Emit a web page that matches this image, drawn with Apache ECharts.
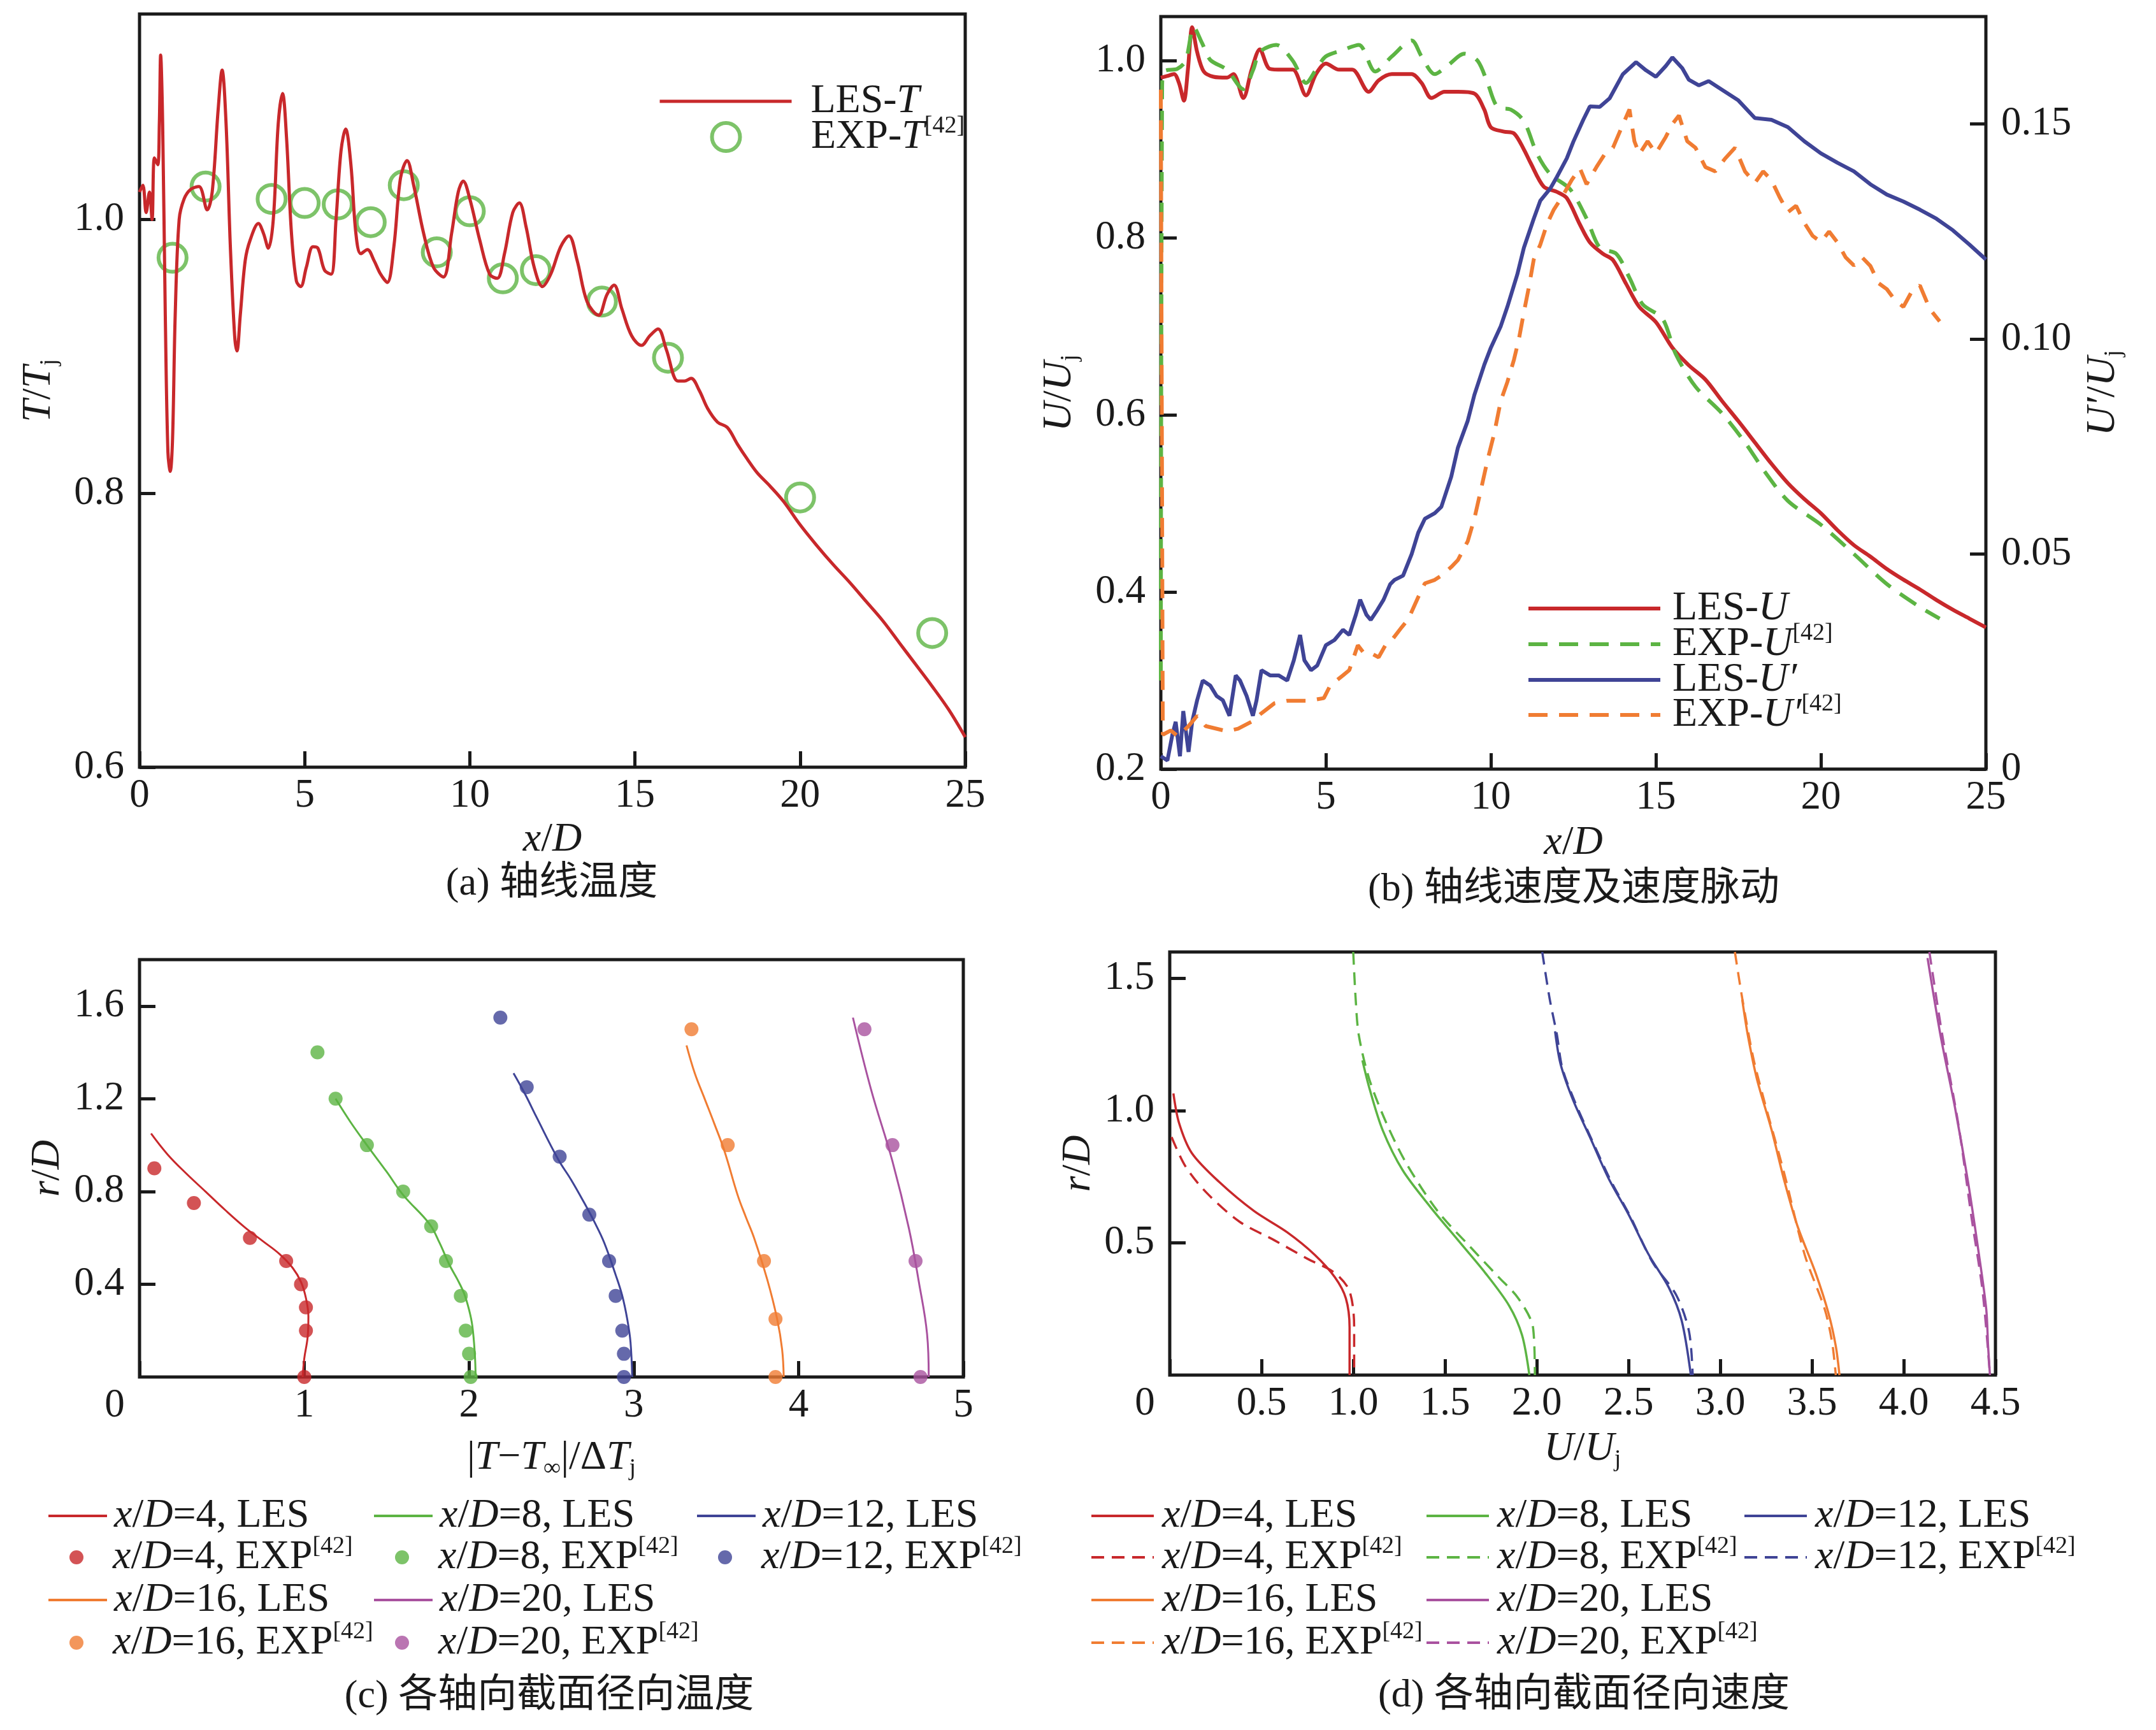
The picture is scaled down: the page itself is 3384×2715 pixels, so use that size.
<!DOCTYPE html>
<html lang="zh">
<head>
  <meta charset="UTF-8">
  <title>轴线温度与速度</title>
  <style>
    html, body { margin: 0; padding: 0; background: #fff; }
    #chart { width: 3384px; height: 2715px; }
  </style>
</head>
<body>
  <div id="chart"></div>
  <script src="https://cdn.jsdelivr.net/npm/echarts@6/dist/echarts.min.js"></script>
  <script>
    // (a) 轴线温度  [x/D, T/Tj]
    const aLes = [[0,1.02],[0.1,1.025],[0.2,1.005],[0.3,1.02],[0.38,1.0],[0.45,1.045],[0.55,1.04],[0.6,1.07],[0.64,1.12],[0.7,1.07],[0.78,0.93],[0.86,0.83],[0.93,0.816],[1.0,0.84],[1.08,0.93],[1.2,1.0],[1.35,1.015],[1.55,1.022],[1.8,1.024],[2.05,1.007],[2.2,1.02],[2.38,1.08],[2.5,1.109],[2.62,1.07],[2.75,0.98],[2.88,0.915],[2.95,0.904],[3.05,0.93],[3.2,0.97],[3.35,0.985],[3.6,0.997],[3.75,0.99],[3.9,0.979],[4.05,1.0],[4.2,1.07],[4.33,1.092],[4.45,1.06],[4.6,0.99],[4.75,0.955],[4.88,0.951],[5.05,0.965],[5.25,0.98],[5.4,0.979],[5.6,0.963],[5.8,0.96],[5.95,1.0],[6.1,1.05],[6.24,1.066],[6.4,1.04],[6.55,0.99],[6.7,0.975],[6.9,0.978],[7.1,0.97],[7.3,0.96],[7.5,0.954],[7.7,0.98],[7.9,1.03],[8.1,1.043],[8.3,1.025],[8.6,0.99],[8.9,0.965],[9.2,0.958],[9.45,0.99],[9.65,1.02],[9.8,1.028],[10.0,1.015],[10.3,0.985],[10.6,0.96],[10.83,0.957],[11.05,0.975],[11.3,1.005],[11.5,1.012],[11.7,0.995],[11.95,0.965],[12.2,0.951],[12.45,0.96],[12.75,0.98],[13.0,0.988],[13.25,0.97],[13.55,0.94],[13.9,0.93],[14.15,0.945],[14.37,0.952],[14.6,0.935],[14.9,0.915],[15.2,0.908],[15.45,0.915],[15.7,0.92],[15.95,0.905],[16.3,0.882],[16.5,0.882],[16.7,0.884],[16.95,0.875],[17.2,0.862],[17.5,0.852],[17.8,0.848],[18.1,0.836],[18.4,0.825],[18.7,0.815],[19.1,0.805],[19.5,0.794],[20.0,0.777],[20.5,0.762],[21.0,0.748],[21.5,0.735],[22.0,0.721],[22.5,0.707],[23.0,0.691],[23.5,0.675],[24.0,0.659],[24.5,0.642],[25.0,0.622]];
    const aExp = [[1,0.972],[2,1.024],[4,1.015],[5,1.012],[6,1.011],[7,0.998],[8,1.025],[9,0.976],[10,1.006],[11,0.957],[12,0.963],[14,0.940],[16,0.899],[20,0.797],[24,0.698]];

    // (b) 轴线速度及速度脉动  [x/D, U/Uj] 与 [x/D, U'/Uj]
    const bLesU = [[0,0.981],[0.2,0.983],[0.4,0.985],[0.55,0.975],[0.7,0.955],[0.82,0.99],[0.95,1.038],[1.1,1.01],[1.3,0.988],[1.6,0.982],[2.0,0.981],[2.2,0.985],[2.5,0.958],[2.75,0.99],[3.0,1.013],[3.3,0.991],[3.7,0.99],[4.0,0.99],[4.4,0.961],[4.7,0.985],[5.0,0.997],[5.4,0.99],[5.8,0.99],[6.3,0.965],[6.6,0.978],[7.0,0.985],[7.6,0.985],[7.9,0.975],[8.2,0.958],[8.6,0.965],[9.0,0.965],[9.5,0.963],[9.8,0.945],[10.0,0.925],[10.4,0.92],[10.7,0.918],[11.0,0.9],[11.2,0.885],[11.6,0.858],[12.0,0.852],[12.3,0.845],[12.7,0.815],[13.0,0.795],[13.4,0.782],[13.7,0.775],[14.1,0.748],[14.5,0.722],[15.0,0.705],[15.5,0.676],[16.0,0.656],[16.5,0.64],[17.0,0.616],[17.5,0.593],[18.0,0.569],[18.5,0.545],[19.0,0.523],[19.5,0.505],[20.0,0.489],[20.5,0.47],[21.0,0.453],[21.5,0.44],[22.0,0.426],[22.5,0.414],[23.0,0.403],[23.5,0.391],[24.0,0.38],[24.5,0.37],[25.0,0.36]];
    const bExpU = [[0,0.3],[0.04,0.97],[0.1,0.988],[0.5,0.991],[0.75,1.0],[1.0,1.038],[1.25,1.02],[1.5,1.001],[2.0,0.99],[2.5,0.968],[2.8,0.99],[3.0,1.01],[3.5,1.018],[4.0,1.0],[4.4,0.975],[4.7,0.99],[5.0,1.005],[5.5,1.012],[6.0,1.018],[6.5,0.988],[7.0,1.005],[7.6,1.023],[7.9,1.005],[8.3,0.985],[8.7,0.995],[9.2,1.008],[9.6,1.0],[9.9,0.975],[10.2,0.948],[10.6,0.945],[11.0,0.932],[11.4,0.895],[11.8,0.872],[12.4,0.855],[12.9,0.822],[13.3,0.789],[13.8,0.782],[14.2,0.755],[14.6,0.725],[15.2,0.709],[15.6,0.669],[16.2,0.632],[17.0,0.602],[17.7,0.569],[18.3,0.536],[19.0,0.503],[20.0,0.476],[21.0,0.443],[22.0,0.409],[23.0,0.383],[23.6,0.37]];
    const bLesUp = [[0,0.003],[0.2,0.002],[0.35,0.008],[0.45,0.011],[0.58,0.003],[0.68,0.0135],[0.84,0.004],[0.95,0.011],[1.1,0.016],[1.27,0.0206],[1.5,0.0194],[1.69,0.017],[1.88,0.016],[2.08,0.0124],[2.27,0.0218],[2.4,0.0206],[2.6,0.017],[2.79,0.0124],[2.9,0.016],[3.05,0.023],[3.31,0.0218],[3.57,0.0218],[3.83,0.0206],[4.03,0.0253],[4.22,0.0312],[4.35,0.0253],[4.55,0.023],[4.74,0.0241],[5.0,0.0288],[5.26,0.03],[5.52,0.0324],[5.71,0.0312],[5.91,0.0359],[6.04,0.0394],[6.23,0.0359],[6.36,0.0347],[6.56,0.037],[6.75,0.0394],[6.95,0.043],[7.08,0.044],[7.34,0.045],[7.6,0.05],[7.8,0.055],[8.0,0.0582],[8.3,0.0595],[8.5,0.061],[8.8,0.068],[9.0,0.0747],[9.3,0.081],[9.5,0.087],[9.8,0.094],[10.0,0.098],[10.3,0.103],[10.5,0.1075],[10.8,0.115],[11.0,0.1212],[11.3,0.128],[11.5,0.1322],[11.8,0.135],[12.0,0.1377],[12.3,0.142],[12.5,0.1459],[12.8,0.151],[13.0,0.1541],[13.3,0.154],[13.6,0.156],[14.0,0.1616],[14.4,0.1644],[14.7,0.1625],[15.0,0.161],[15.3,0.1635],[15.5,0.1655],[15.8,0.163],[16.0,0.1603],[16.3,0.159],[16.6,0.16],[17.0,0.158],[17.5,0.1555],[18.0,0.1514],[18.5,0.151],[19.0,0.1493],[19.5,0.146],[20.0,0.1432],[20.5,0.141],[21.0,0.139],[21.5,0.136],[22.0,0.1336],[22.5,0.132],[23.0,0.1301],[23.5,0.128],[24.0,0.1253],[24.5,0.122],[25.0,0.1185]];
    const bExpUp = [[0,0.158],[0.06,0.008],[0.3,0.009],[0.52,0.0076],[0.84,0.01],[1.1,0.0124],[1.36,0.01],[2.0,0.0088],[2.34,0.0094],[2.79,0.0112],[3.05,0.013],[3.44,0.0153],[3.83,0.0159],[4.48,0.0159],[4.94,0.0165],[5.13,0.0194],[5.52,0.0218],[5.71,0.023],[5.97,0.0288],[6.15,0.027],[6.36,0.027],[6.6,0.026],[6.82,0.029],[7.0,0.03],[7.3,0.033],[7.5,0.0349],[7.8,0.04],[8.0,0.0432],[8.3,0.044],[8.5,0.045],[8.8,0.047],[9.0,0.0486],[9.3,0.053],[9.5,0.0582],[9.7,0.065],[9.9,0.0719],[10.1,0.078],[10.3,0.0856],[10.5,0.09],[10.7,0.0952],[10.85,0.1],[11.0,0.1062],[11.15,0.112],[11.3,0.1185],[11.5,0.122],[11.7,0.1267],[11.9,0.13],[12.2,0.1336],[12.45,0.137],[12.7,0.1397],[12.9,0.136],[13.2,0.14],[13.45,0.143],[13.7,0.1445],[13.95,0.149],[14.2,0.1534],[14.35,0.146],[14.5,0.143],[14.75,0.146],[15.0,0.1432],[15.3,0.147],[15.5,0.15],[15.7,0.152],[15.95,0.146],[16.2,0.1445],[16.5,0.14],[16.8,0.139],[17.1,0.142],[17.4,0.1445],[17.7,0.139],[18.0,0.1363],[18.25,0.139],[18.5,0.137],[18.75,0.133],[19.0,0.1295],[19.25,0.131],[19.5,0.127],[19.75,0.124],[20.0,0.1226],[20.25,0.125],[20.5,0.1225],[20.75,0.119],[21.0,0.1171],[21.25,0.119],[21.5,0.117],[21.75,0.113],[22.0,0.1116],[22.25,0.109],[22.5,0.1075],[22.75,0.111],[23.0,0.1125],[23.3,0.107],[23.6,0.1041]];

    // (c) 各轴向截面径向温度  [|T-T∞|/ΔTj, r/D]
    const c4Les = [[0.07,1.05],[0.17,0.96],[0.28,0.88],[0.4,0.8],[0.52,0.72],[0.64,0.645],[0.75,0.585],[0.85,0.53],[0.93,0.47],[0.98,0.41],[1.01,0.34],[1.025,0.26],[1.02,0.17],[1.0,0.08],[0.99,0]];
    const c4Exp = [[0.09,0.9],[0.33,0.75],[0.67,0.6],[0.89,0.5],[0.98,0.4],[1.01,0.3],[1.01,0.2],[1.0,0]];
    const c8Les = [[1.19,1.2],[1.28,1.1],[1.38,1.0],[1.5,0.885],[1.6,0.785],[1.76,0.66],[1.82,0.58],[1.88,0.485],[1.93,0.42],[1.97,0.36],[2.0,0.29],[2.02,0.22],[2.035,0.1],[2.04,0]];
    const c8Exp = [[1.08,1.4],[1.19,1.2],[1.38,1.0],[1.6,0.8],[1.77,0.65],[1.86,0.5],[1.95,0.35],[1.98,0.2],[2.0,0.1],[2.01,0]];
    const c12Les = [[2.27,1.31],[2.34,1.22],[2.41,1.12],[2.54,0.94],[2.62,0.85],[2.7,0.75],[2.76,0.67],[2.82,0.58],[2.89,0.44],[2.93,0.35],[2.96,0.25],[2.98,0.15],[2.99,0]];
    const c12Exp = [[2.19,1.55],[2.35,1.25],[2.55,0.95],[2.73,0.7],[2.85,0.5],[2.89,0.35],[2.93,0.2],[2.94,0.1],[2.94,0]];
    const c16Les = [[3.32,1.43],[3.37,1.31],[3.43,1.2],[3.49,1.09],[3.55,0.975],[3.63,0.785],[3.68,0.69],[3.73,0.6],[3.81,0.42],[3.87,0.25],[3.9,0.12],[3.91,0]];
    const c16Exp = [[3.35,1.5],[3.57,1.0],[3.79,0.5],[3.86,0.25],[3.86,0]];
    const c20Les = [[4.33,1.55],[4.44,1.24],[4.57,0.93],[4.67,0.64],[4.73,0.41],[4.78,0.185],[4.79,0]];
    const c20Exp = [[4.4,1.5],[4.57,1.0],[4.71,0.5],[4.74,0]];

    // (d) 各轴向截面径向速度  [U/Uj, r/D]
    const d4Les = [[0.02,1.065],[0.05,0.955],[0.12,0.84],[0.27,0.73],[0.46,0.62],[0.64,0.54],[0.79,0.455],[0.9,0.37],[0.96,0.29],[0.98,0.18],[0.98,0]];
    const d4Exp = [[0.01,0.9],[0.085,0.79],[0.2,0.69],[0.38,0.58],[0.57,0.51],[0.75,0.44],[0.9,0.386],[0.98,0.317],[1.005,0.18],[1.005,0]];
    const d8Les = [[1.05,1.19],[1.09,1.08],[1.16,0.927],[1.27,0.774],[1.42,0.636],[1.57,0.511],[1.72,0.386],[1.85,0.262],[1.92,0.151],[1.96,0]];
    const d8Exp = [[1.0,1.6],[1.013,1.425],[1.03,1.287],[1.087,1.12],[1.18,0.954],[1.29,0.8],[1.46,0.62],[1.64,0.483],[1.79,0.372],[1.9,0.29],[1.98,0.179],[1.99,0]];
    const d12Les = [[2.1,1.3],[2.13,1.176],[2.2,1.037],[2.29,0.9],[2.39,0.746],[2.5,0.608],[2.61,0.456],[2.72,0.331],[2.79,0.206],[2.84,0]];
    const d12Exp = [[2.03,1.6],[2.07,1.425],[2.11,1.287],[2.14,1.16],[2.21,1.03],[2.3,0.89],[2.4,0.74],[2.51,0.6],[2.63,0.428],[2.76,0.303],[2.83,0.165],[2.85,0]];
    const d16Les = [[3.12,1.42],[3.15,1.287],[3.2,1.12],[3.28,0.927],[3.35,0.733],[3.42,0.566],[3.52,0.386],[3.59,0.234],[3.63,0.109],[3.65,0]];
    const d16Exp = [[3.08,1.6],[3.12,1.425],[3.18,1.2],[3.24,1.037],[3.35,0.76],[3.46,0.456],[3.57,0.248],[3.61,0.123],[3.63,0]];
    const d20Les = [[4.13,1.577],[4.2,1.287],[4.28,1.01],[4.35,0.733],[4.41,0.456],[4.45,0.248],[4.46,0.109],[4.47,0]];
    const d20Exp = [[4.14,1.6],[4.21,1.287],[4.3,0.94],[4.37,0.594],[4.43,0.317],[4.47,0]];

    const sections = ['4', '8', '12', '16', '20'];

    const FONT = "'Liberation Serif', 'Noto Sans CJK SC', serif";
    const INK = '#1a1a1a';
    const RED = '#c8282b', GREEN = '#5cb443', BLUE = '#3f4496', ORANGE = '#f07c32', PURPLE = '#a9529f';
    const secColor = [RED, GREEN, BLUE, ORANGE, PURPLE];

    const rich = {
      i: { fontStyle: 'italic', fontFamily: FONT, fontSize: 64, lineHeight: 72, color: INK },
      sup: { fontFamily: FONT, fontSize: 38, verticalAlign: 'top', color: INK },
      sub: { fontFamily: FONT, fontSize: 38, verticalAlign: 'bottom', color: INK }
    };
    const baseText = { fontFamily: FONT, fontSize: 64, lineHeight: 72, color: INK, rich: rich };

    // 图例文字
    const LABELS = {
      aLES: 'LES-{i|T}',
      aEXP: 'EXP-{i|T}{sup|[42]}',
      bLESU: 'LES-{i|U}',
      bEXPU: 'EXP-{i|U}{sup|[42]}',
      bLESUp: 'LES-{i|U′}',
      bEXPUp: 'EXP-{i|U′}{sup|[42]}'
    };
    sections.forEach(s => {
      ['c', 'd'].forEach(p => {
        LABELS[p + s + 'L'] = '{i|x}/{i|D}=' + s + ', LES';
        LABELS[p + s + 'E'] = '{i|x}/{i|D}=' + s + ', EXP{sup|[42]}';
      });
    });

    const tick = { show: true, inside: true, length: 25, lineStyle: { color: INK, width: 5 } };
    function xLab(extra) {
      return Object.assign({ fontFamily: FONT, fontSize: 63, color: INK, margin: 14 }, extra || {});
    }
    function yLab(extra) {
      return Object.assign({ fontFamily: FONT, fontSize: 63, color: INK, margin: 24, showMaxLabel: false }, extra || {});
    }
    const zeroShift = { z: { fontFamily: FONT, fontSize: 63, color: INK, padding: [0, 78, 0, 0] } };

    function axis(o) {
      return Object.assign({
        type: 'value', nameLocation: 'middle', nameTextStyle: baseText,
        axisLine: { show: false }, axisTick: tick, splitLine: { show: false }
      }, o);
    }

    const gridBox = { show: true, borderColor: INK, borderWidth: 5, backgroundColor: 'rgba(0,0,0,0)', outerBoundsMode: 'none', containLabel: false };

    const grids = [
      Object.assign({ left: 219, top: 22, width: 1296, height: 1182 }, gridBox),
      Object.assign({ left: 1822, top: 26, width: 1295, height: 1181 }, gridBox),
      Object.assign({ left: 219, top: 1506, width: 1293, height: 655 }, gridBox),
      Object.assign({ left: 1836, top: 1494, width: 1296, height: 664 }, gridBox)
    ];

    const xAxes = [
      axis({ gridIndex: 0, min: 0, max: 25, interval: 5, name: '{i|x}/{i|D}', nameGap: 78, axisLabel: xLab() }),
      axis({ gridIndex: 1, min: 0, max: 25, interval: 5, name: '{i|x}/{i|D}', nameGap: 80, axisLabel: xLab() }),
      axis({ gridIndex: 2, min: 0, max: 5, interval: 1, name: '|{i|T}−{i|T}{sub|∞}|/Δ{i|T}{sub|j}', nameGap: 91,
        axisLabel: xLab({ rich: zeroShift, formatter: v => v === 0 ? '{z|0}' : String(v) }) }),
      axis({ gridIndex: 3, min: 0, max: 4.5, interval: 0.5, name: '{i|U}/{i|U}{sub|j}', nameGap: 80,
        axisLabel: xLab({ rich: zeroShift, formatter: v => v === 0 ? '{z|0}' : v.toFixed(1) }) })
    ];

    const yAxes = [
      axis({ gridIndex: 0, min: 0.6, max: 1.15, interval: 0.2, name: '{i|T}/{i|T}{sub|j}', nameGap: 122,
        axisLabel: yLab({ formatter: v => v.toFixed(1) }) }),
      axis({ gridIndex: 1, min: 0.2, max: 1.05, interval: 0.2, name: '{i|U}/{i|U}{sub|j}', nameGap: 123,
        axisLabel: yLab({ formatter: v => v.toFixed(1) }) }),
      axis({ gridIndex: 1, position: 'right', min: 0, max: 0.175, interval: 0.05, name: '{i|U′}/{i|U}{sub|j}', nameGap: 148,
        axisLabel: yLab({ formatter: v => v === 0 ? '0' : v.toFixed(2) }) }),
      axis({ gridIndex: 2, min: 0, max: 1.8, interval: 0.4, name: '{i|r}/{i|D}', nameGap: 108,
        axisLabel: yLab({ showMinLabel: false, formatter: v => v.toFixed(1) }) }),
      axis({ gridIndex: 3, min: 0, max: 1.6, interval: 0.5, name: '{i|r}/{i|D}', nameGap: 95,
        axisLabel: yLab({ showMinLabel: false, formatter: v => v.toFixed(1) }) })
    ];

    function lineS(name, xi, yi, data, color, width, dash, smooth) {
      return {
        name: name, type: 'line', xAxisIndex: xi, yAxisIndex: yi, data: data,
        symbol: 'none', showSymbol: false, smooth: smooth || false,
        lineStyle: { color: color, width: width, type: dash || 'solid' },
        itemStyle: { color: color }, emphasis: { disabled: true }
      };
    }

    const series = [
      lineS('aLES', 0, 0, aLes, RED, 5, null, 0.35),
      {
        name: 'aEXP', type: 'scatter', xAxisIndex: 0, yAxisIndex: 0, data: aExp,
        symbol: 'circle', symbolSize: 44,
        itemStyle: { color: 'rgba(255,255,255,0)', borderColor: GREEN, borderWidth: 6 }
      },
      lineS('bLESU', 1, 1, bLesU, RED, 6, null, 0.3),
      lineS('bEXPU', 1, 1, bExpU, GREEN, 6, [30, 18], 0.3),
      lineS('bLESUp', 1, 2, bLesUp, BLUE, 6, null, false),
      lineS('bEXPUp', 1, 2, bExpUp, ORANGE, 6, [30, 18], false)
    ];

    const cLes = [c4Les, c8Les, c12Les, c16Les, c20Les];
    const cExp = [c4Exp, c8Exp, c12Exp, c16Exp, c20Exp];
    const dLes = [d4Les, d8Les, d12Les, d16Les, d20Les];
    const dExp = [d4Exp, d8Exp, d12Exp, d16Exp, d20Exp];
    sections.forEach((s, k) => {
      series.push(lineS('c' + s + 'L', 2, 3, cLes[k], secColor[k], 3, null, 0.4));
      series.push({
        name: 'c' + s + 'E', type: 'scatter', xAxisIndex: 2, yAxisIndex: 3, data: cExp[k],
        symbol: 'circle', symbolSize: 22, itemStyle: { color: secColor[k] }
      });
    });
    sections.forEach((s, k) => {
      series.push(lineS('d' + s + 'L', 3, 4, dLes[k], secColor[k], 3.5, null, 0.3));
      series.push(lineS('d' + s + 'E', 3, 4, dExp[k], secColor[k], 3.5, [20, 12], 0.3));
    });

    // 图例位置: [名称, 左, 行中心, 图标宽, 图标高, 文字间距, 线宽(0 为散点)]
    const legendSpec = [
      ['aLES', 1033, 159, 207, 44, 25, 5],
      ['aEXP', 1033, 215, 207, 44, 25, 0],
      ['bLESU', 2396, 955, 207, 30, 14, 6],
      ['bEXPU', 2396, 1011, 207, 30, 14, 6],
      ['bLESUp', 2396, 1067, 207, 30, 14, 6],
      ['bEXPUp', 2396, 1122, 207, 30, 14, 6]
    ];
    const cCols = [74, 585, 1092], dCols = [1711, 2237, 2736];
    const rowsY = [2379, 2444, 2511, 2578];
    sections.forEach((s, k) => {
      const col = k % 3, r0 = k < 3 ? 0 : 2;
      legendSpec.push(['c' + s + 'L', cCols[col], rowsY[r0], 92, 22, 6, 4]);
      legendSpec.push(['c' + s + 'E', cCols[col], rowsY[r0 + 1], 92, 22, 6, 0]);
      legendSpec.push(['d' + s + 'L', dCols[col], rowsY[r0], 98, 22, 8, 4]);
      legendSpec.push(['d' + s + 'E', dCols[col], rowsY[r0 + 1], 98, 22, 8, 4]);
    });

    const legends = legendSpec.map(s => {
      const isLine = s[6] > 0;
      // 散点图例的包围盒从圆点左缘开始, 需右移使圆点居中于图标宽度
      const shift = isLine ? 0 : (s[3] - s[4]) / 2;
      const lg = {
        data: [s[0]], left: s[1] + shift, top: s[2] - 36, orient: 'horizontal', padding: 0,
        itemWidth: s[3], itemHeight: s[4], selectedMode: false,
        formatter: n => LABELS[n],
        textStyle: Object.assign({}, baseText, { padding: [0, 0, 0, s[5]] })
      };
      if (isLine) {
        lg.itemStyle = { opacity: 0 };
        lg.lineStyle = { width: s[6] };
      } else if (s[0] === 'aEXP') {
        lg.itemStyle = { color: 'rgba(255,255,255,0)', borderColor: GREEN, borderWidth: 6 };
      }
      return lg;
    });

    // 分图标题
    const captions = [
      ['(a) 轴线温度', 866, 1388],
      ['(b) 轴线速度及速度脉动', 2470, 1397],
      ['(c) 各轴向截面径向温度', 862, 2663],
      ['(d) 各轴向截面径向速度', 2486, 2662]
    ];
    const graphics = captions.map(c => ({
      type: 'text', x: c[1], y: c[2],
      style: { text: c[0], fill: INK, font: '62px ' + FONT, align: 'center', verticalAlign: 'middle' }
    }));

    const chart = echarts.init(document.getElementById('chart'));
    chart.setOption({
      animation: false,
      backgroundColor: '#fff',
      grid: grids,
      xAxis: xAxes,
      yAxis: yAxes,
      legend: legends,
      graphic: graphics,
      series: series
    });
  </script>
</body>
</html>
